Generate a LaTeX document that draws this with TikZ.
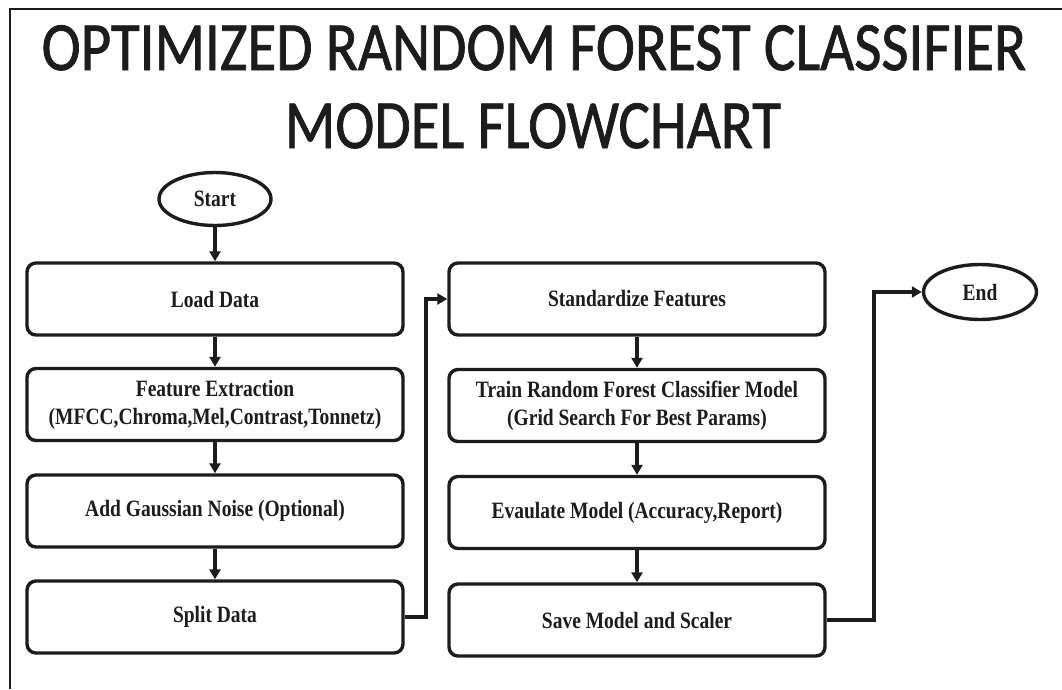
\documentclass[tikz,border=0pt]{standalone}
\usepackage{fontspec}
\setmainfont{Liberation Serif}
\newfontfamily\titlefont[FakeBold=1.2]{Carlito}
\usetikzlibrary{arrows.meta,shapes.geometric}
\definecolor{ink}{HTML}{1C1C1C}
% tall, slightly condensed lettering used throughout the chart
\newcommand\stretchy[1]{\scalebox{1}[1.2]{#1}}
\newcommand\twolines[2]{\stretchy{\begin{tabular}{@{}c@{}}#1\\#2\end{tabular}}}
\newcommand\headline[1]{\scalebox{1}[1.17]{#1}}
\begin{document}
\begin{tikzpicture}[x=1pt,y=-1pt,
  procbox/.style={draw=ink, line width=3.4pt, rounded corners=9pt,
    minimum width=376pt, minimum height=72pt, inner sep=0pt, align=center,
    text=ink, font=\fontsize{19.5}{23.4}\selectfont\bfseries},
  terminal/.style={draw=ink, line width=3.4pt, ellipse, minimum width=112pt,
    minimum height=53pt, inner sep=0pt, text=ink,
    font=\fontsize{19.5}{23.4}\selectfont\bfseries},
  flow/.style={draw=ink, line width=3.2pt, line join=miter,
    -{Triangle[length=10pt,width=11pt]}},
  titletext/.style={anchor=base, inner sep=0pt, text=ink,
    font=\titlefont\fontsize{59}{70}\selectfont}]
\useasboundingbox (0,0) rectangle (1062,689);
\fill[white] (0,0) rectangle (1062,689);

% outer frame
\draw[ink, line width=2pt] (9.5,689) -- (9.5,8.5) -- (1062,8.5);

% title
\node[titletext] (title1) at (534,70) {\headline{OPTIMIZED RANDOM FOREST CLASSIFIER}};
\node[titletext] (title2) at (533,148) {\headline{MODEL FLOWCHART}};

% left column
\node[terminal] (start) at (215,199) {\stretchy{Start}};
\node[procbox] (load) at (215,299) {\stretchy{Load Data}};
\node[procbox] (feat) at (215,404.5) {\twolines{Feature Extraction}{(MFCC,Chroma,Mel,Contrast,Tonnetz)}};
\node[procbox] (noise) at (215,511) {\stretchy{Add Gaussian Noise (Optional)}};
\node[procbox] (split) at (215,617) {\stretchy{Split Data}};

% right column
\node[procbox] (std) at (637,299) {\stretchy{Standardize Features}};
\node[procbox] (train) at (637,405.5) {\twolines{Train Random Forest Classifier Model}{(Grid Search For Best Params)}};
\node[procbox] (eval) at (637,512.5) {\stretchy{Evaulate Model (Accuracy,Report)}};
\node[procbox] (save) at (637,620) {\stretchy{Save Model and Scaler}};
\node[terminal, minimum width=113pt, minimum height=55pt] (end) at (980,292) {\stretchy{End}};

% connectors
\draw[flow] (start) -- (load);
\draw[flow] (load) -- (feat);
\draw[flow] (feat) -- (noise);
\draw[flow] (noise) -- (split);
\draw[flow] (split.east) -- (426,617) -- (426,299) -- (std.west);
\draw[flow] (std) -- (train);
\draw[flow] (train) -- (eval);
\draw[flow] (eval) -- (save);
\draw[flow] (save.east) -- (874,620) -- (874,292) -- (end.west);
\end{tikzpicture}
\end{document}
